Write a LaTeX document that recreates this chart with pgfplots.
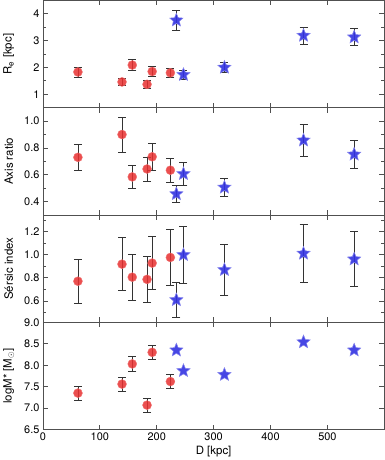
\documentclass[border=0pt]{standalone}
\usepackage{fontspec}
\setmainfont{TeX Gyre Heros}
\usepackage{pgfplots}
\pgfplotsset{compat=1.18}
\usepgfplotslibrary{groupplots}

\definecolor{ptred}{RGB}{232,48,48}
\definecolor{ptblue}{RGB}{50,50,225}
\definecolor{frame}{RGB}{80,80,80}

% filled five-pointed star
\pgfdeclareplotmark{fstar}{%
  \pgfpathmoveto{\pgfpointpolar{90}{\pgfplotmarksize}}%
  \pgfpathlineto{\pgfpointpolar{126}{0.45\pgfplotmarksize}}%
  \pgfpathlineto{\pgfpointpolar{162}{\pgfplotmarksize}}%
  \pgfpathlineto{\pgfpointpolar{198}{0.45\pgfplotmarksize}}%
  \pgfpathlineto{\pgfpointpolar{234}{\pgfplotmarksize}}%
  \pgfpathlineto{\pgfpointpolar{270}{0.45\pgfplotmarksize}}%
  \pgfpathlineto{\pgfpointpolar{306}{\pgfplotmarksize}}%
  \pgfpathlineto{\pgfpointpolar{342}{0.45\pgfplotmarksize}}%
  \pgfpathlineto{\pgfpointpolar{18}{\pgfplotmarksize}}%
  \pgfpathlineto{\pgfpointpolar{54}{0.45\pgfplotmarksize}}%
  \pgfpathclose
  \pgfusepathqfillstroke}

\pgfplotsset{
  redpts/.style={only marks, mark=*, mark size=4.5bp,
    mark options={draw=ptred!70, fill=ptred, fill opacity=0.85, line width=0.4bp},
    error bars/.cd, y dir=both, y explicit,
    error bar style={line width=0.8bp, black!80},
    error mark options={rotate=90, mark size=4bp, line width=0.8bp, black!80}},
  bluepts/.style={only marks, mark=fstar, mark size=7bp,
    mark options={draw=ptblue!60, fill=ptblue, fill opacity=0.9, line width=0.5bp},
    error bars/.cd, y dir=both, y explicit,
    error bar style={line width=0.8bp, black!80},
    error mark options={rotate=90, mark size=4bp, line width=0.8bp, black!80}},
}

\begin{document}
\begin{tikzpicture}
\begin{groupplot}[
  group style={group size=1 by 4, vertical sep=0pt, xticklabels at=edge bottom},
  scale only axis, width=342bp, height=107.5bp,
  xmin=0, xmax=600, xtick={0,100,...,500},
  axis line style={frame, line width=0.8bp},
  tick style={frame, line width=0.8bp},
  major tick length=5bp, minor tick length=3bp,
  ticklabel style={font=\fontsize{11}{12}\selectfont},
  label style={font=\fontsize{11.5}{13}\selectfont},
  /pgf/number format/assume math mode=true,
  y label style={at={(axis description cs:-0.1,0.5)}, anchor=center},
  x label style={yshift=2bp},
  yticklabel style={/pgf/number format/fixed, /pgf/number format/fixed zerofill, /pgf/number format/precision=1},
  clip=false,
]
% R_e
\nextgroupplot[ymin=0.5, ymax=4.5, ytick={1,2,3,4}, minor ytick={1.5,2.5,3.5},
  yticklabel style={/pgf/number format/precision=0},
  ylabel={R$_{\mathrm{e}}$ [kpc]}]
\addplot[redpts] coordinates {
  (61.5,1.83) +- (0,0.19) (139,1.46) +- (0,0.13) (157,2.09) +- (0,0.20)
  (183,1.37) +- (0,0.15) (192,1.85) +- (0,0.19) (224,1.80) +- (0,0.17)};
\addplot[bluepts] coordinates {
  (234.5,3.76) +- (0,0.37) (247,1.73) +- (0,0.17) (319,2.00) +- (0,0.20)
  (458,3.19) +- (0,0.32) (547,3.13) +- (0,0.31)};

% Axis ratio
\nextgroupplot[ymin=0.3, ymax=1.1, ytick={0.4,0.6,0.8,1.0}, minor ytick={0.5,0.7,0.9},
  ylabel={Axis ratio}]
\addplot[redpts] coordinates {
  (61.5,0.730) +- (0,0.100) (139,0.900) +- (0,0.130) (157,0.584) +- (0,0.084)
  (183,0.643) +- (0,0.090) (192,0.734) +- (0,0.100) (224,0.634) +- (0,0.090)};
\addplot[bluepts] coordinates {
  (234.5,0.457) +- (0,0.063) (247,0.607) +- (0,0.085) (319,0.506) +- (0,0.070)
  (458,0.857) +- (0,0.120) (547,0.752) +- (0,0.105)};

% Sersic index
\nextgroupplot[ymin=0.415, ymax=1.345, ytick={0.6,0.8,1.0,1.2}, minor ytick={0.5,0.7,0.9,1.1,1.3},
  ylabel={Sérsic index}]
\addplot[redpts] coordinates {
  (61.5,0.771) +- (0,0.19) (139,0.919) +- (0,0.23) (157,0.806) +- (0,0.20)
  (183,0.787) +- (0,0.20) (192,0.928) +- (0,0.23) (224,0.977) +- (0,0.24)};
\addplot[bluepts] coordinates {
  (234.5,0.609) +- (0,0.15) (247,1.000) +- (0,0.25) (319,0.870) +- (0,0.22)
  (458,1.012) +- (0,0.25) (547,0.962) +- (0,0.24)};

% stellar mass
\nextgroupplot[ymin=6.5, ymax=9.0, ytick={6.5,7.0,...,9.0},
  xlabel={D [kpc]}, ylabel={logM* [M$_{\odot}$]},
  xticklabel style={/pgf/number format/precision=0, /pgf/number format/fixed zerofill=false}]
\addplot[redpts] coordinates {
  (61.5,7.35) +- (0,0.165) (139,7.56) +- (0,0.165) (157,8.03) +- (0,0.165)
  (183,7.07) +- (0,0.165) (192,8.30) +- (0,0.165) (224,7.62) +- (0,0.165)};
\addplot[bluepts] coordinates {
  (234.5,8.35) (247,7.87) (319,7.78) (458,8.54) (547,8.35)};
\end{groupplot}
\end{tikzpicture}
\end{document}
